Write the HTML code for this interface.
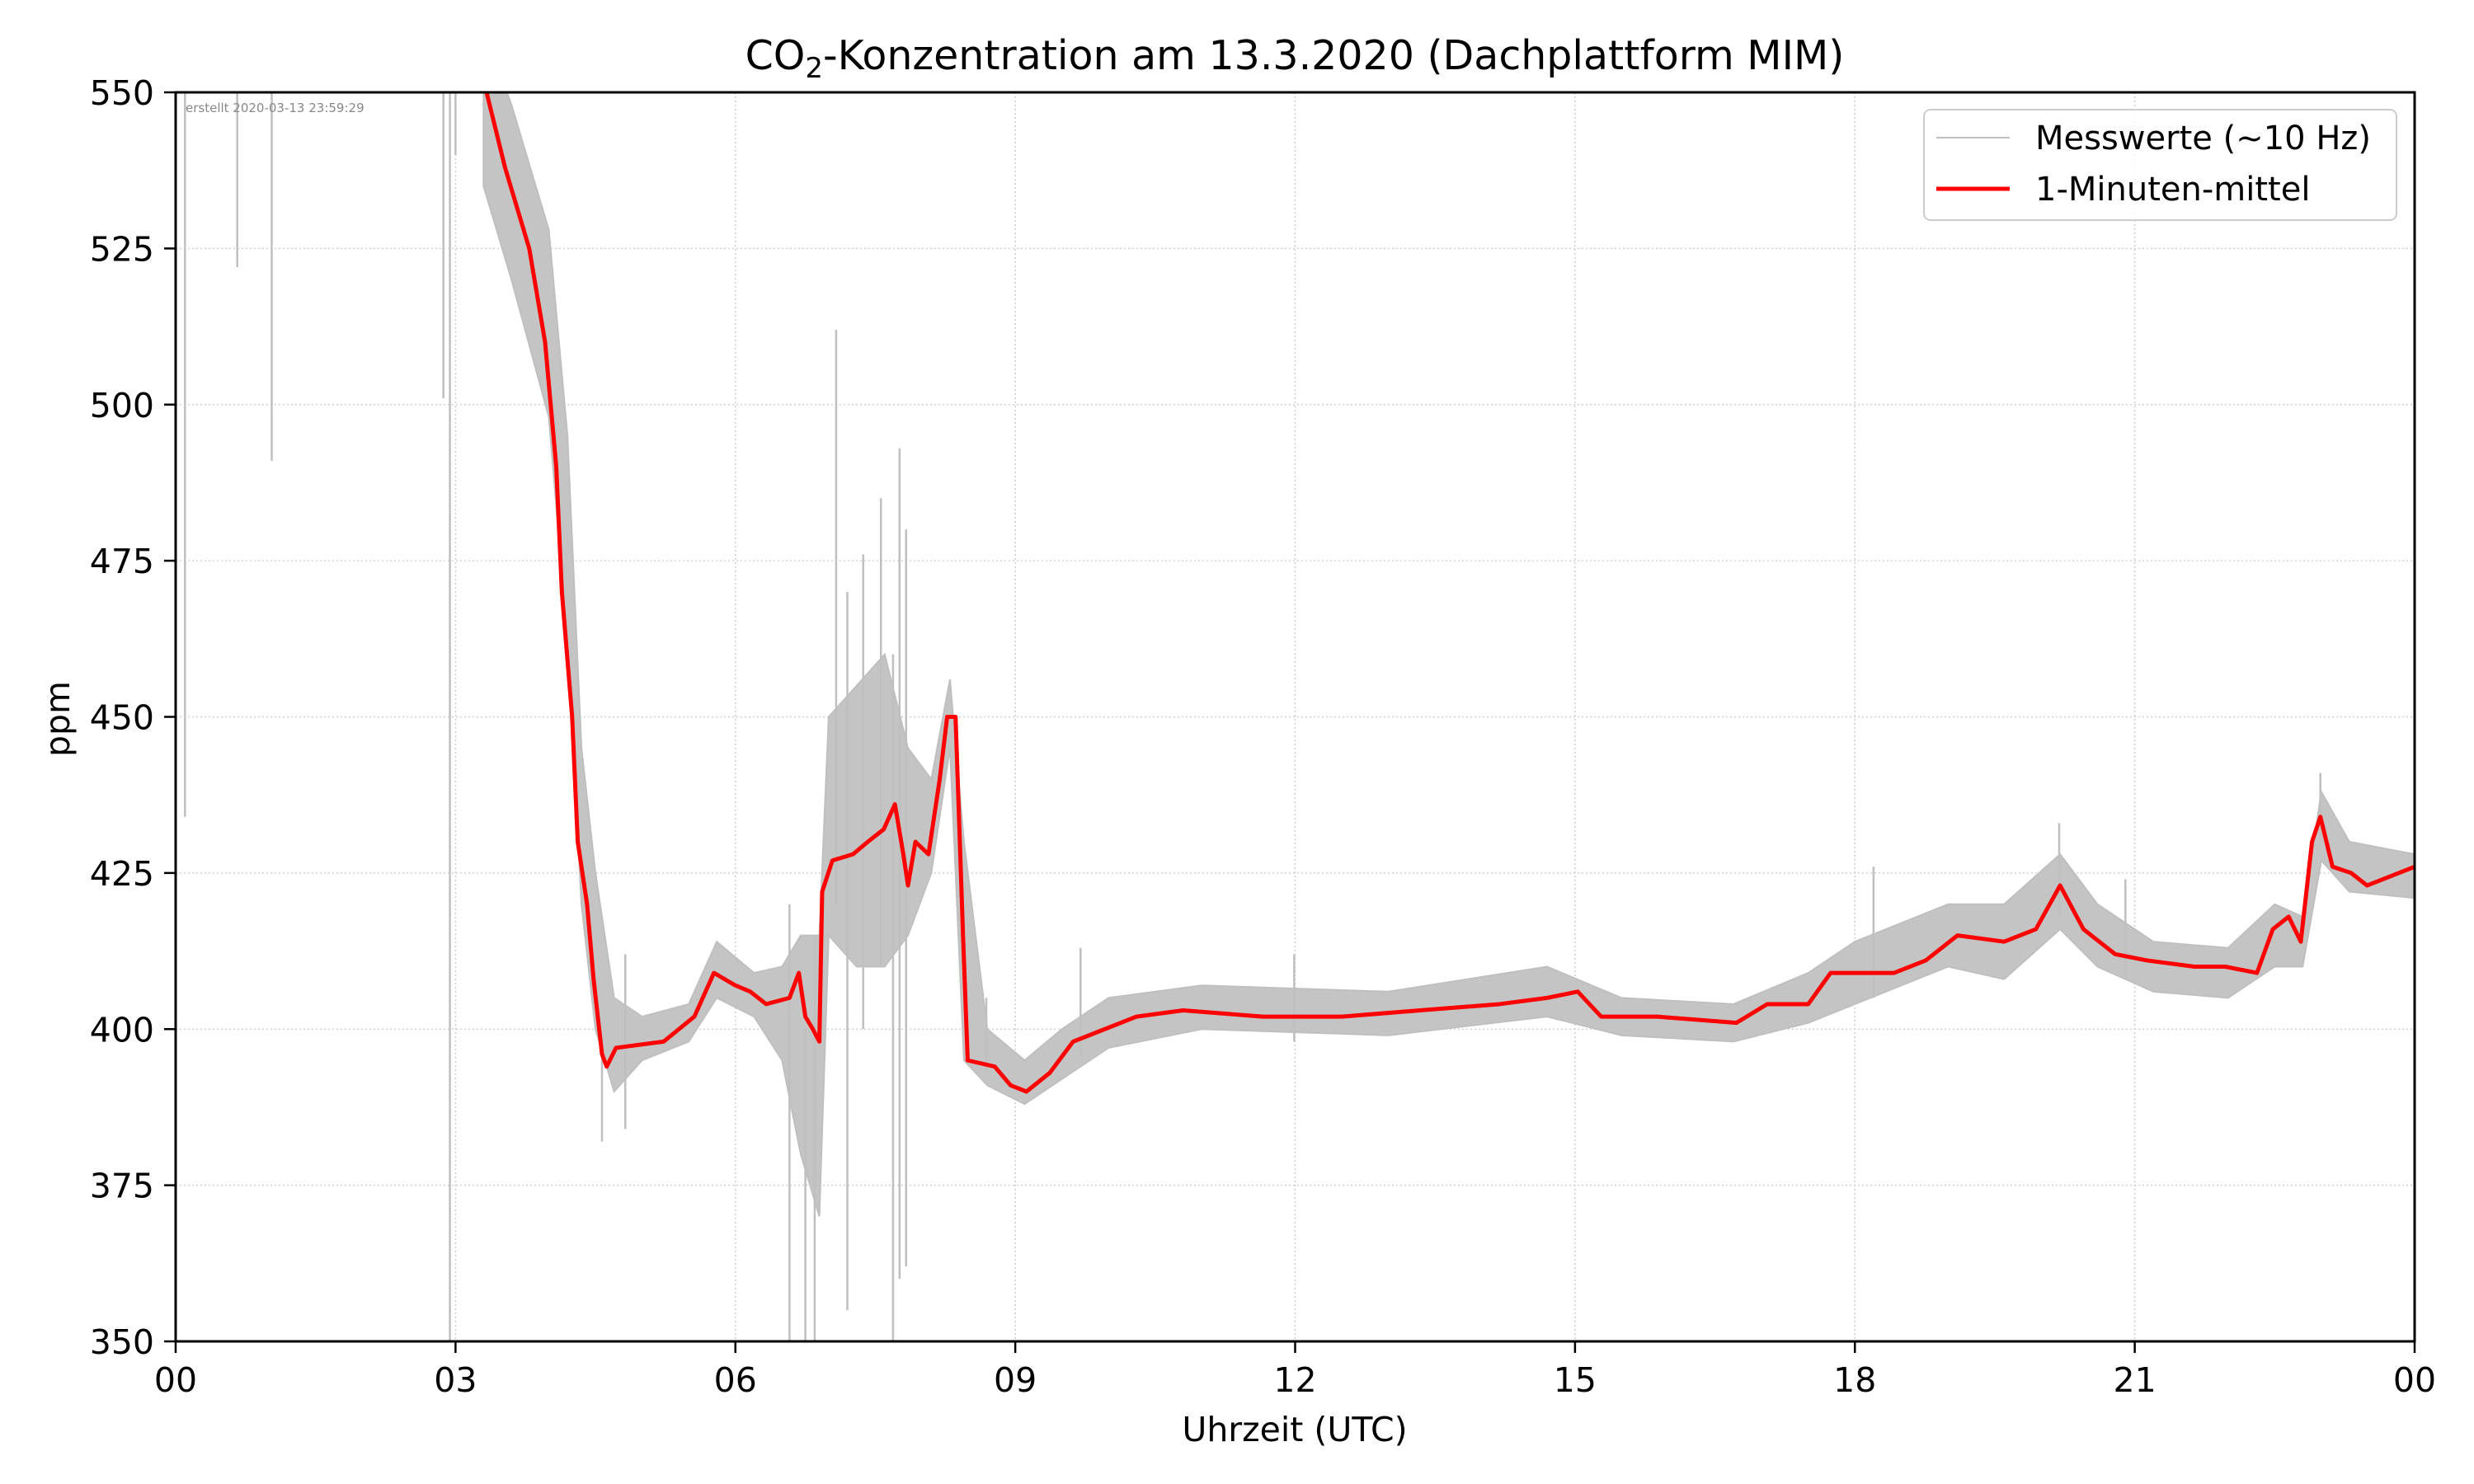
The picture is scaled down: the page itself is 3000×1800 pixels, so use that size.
<!DOCTYPE html>
<html><head><meta charset="utf-8"><style>
html,body{margin:0;padding:0;background:#fff;}
svg{display:block;font-family:"DejaVu Sans","Liberation Sans",sans-serif;}
</style></head><body>
<svg id="chart" width="3000" height="1800" viewBox="0 0 3000 1800" xmlns="http://www.w3.org/2000/svg">
<rect width="3000" height="1800" fill="#fff"/>
<g id="grid"></g>
<g id="gray"></g>
<g id="red"></g>
<g id="axes"></g>
<text x="1570" y="84" font-size="49" text-anchor="middle">CO<tspan font-size="34" dy="10">2</tspan><tspan dy="-10">-Konzentration am 13.3.2020 (Dachplattform MIM)</tspan></text>
<text x="1570" y="1748" font-size="41" text-anchor="middle">Uhrzeit (UTC)</text>
<text transform="translate(84,872) rotate(-90)" font-size="41" text-anchor="middle">ppm</text>
<text x="225" y="136" font-size="15" fill="#888">erstellt 2020-03-13 23:59:29</text>
<g>
<rect x="2333" y="133" width="573" height="134" rx="8" fill="#fff" fill-opacity="0.8" stroke="#ccc" stroke-width="2"/>
<line x1="2348" y1="167" x2="2437" y2="167" stroke="#bfbfbf" stroke-width="2"/>
<text x="2468" y="181" font-size="40">Messwerte (~10 Hz)</text>
<line x1="2348" y1="229" x2="2437" y2="229" stroke="#f00" stroke-width="5"/>
<text x="2468" y="243" font-size="40">1-Minuten-mittel</text>
</g>
</svg>
<script>
const meanHours=[3.3,3.53,3.79,3.96,4.08,4.14,4.25,4.31,4.41,4.48,4.57,4.62,4.72,5.23,5.56,5.77,6.0,6.16,6.33,6.58,6.68,6.75,6.83,6.9,6.93,7.04,7.26,7.42,7.59,7.71,7.8,7.85,7.93,8.07,8.19,8.27,8.36,8.44,8.49,8.78,8.95,9.12,9.37,9.62,9.96,10.3,10.8,11.65,12.5,13.34,14.19,14.7,15.03,15.28,15.88,16.73,17.06,17.5,17.74,18.42,18.76,19.1,19.6,19.94,20.2,20.45,20.79,21.13,21.64,21.97,22.31,22.48,22.65,22.78,22.9,22.99,23.12,23.32,23.49,24];
const meanValues=[552,538,525,510,490,470,450,430,420,408,396,394,397,398,402,409,407,406,404,405,409,402,400,398,422,427,428,430,432,436,428,423,430,428,440,450,450,415,395,394,391,390,393,398,400,402,403,402,402,403,404,405,406,402,402,401,404,404,409,409,411,415,414,416,423,416,412,411,410,410,409,416,418,414,430,434,426,425,423,426];
const envHours=[3.3,3.6,4.0,4.2,4.35,4.5,4.7,5.0,5.5,5.8,6.2,6.5,6.7,6.9,7.0,7.3,7.6,7.85,8.1,8.3,8.45,8.7,9.1,9.5,10,11,13,14.7,15.5,16.7,17.5,18,19,19.6,20.2,20.6,21.2,22,22.5,22.8,23.0,23.3,24];
const envLow=[535,520,498,462,420,400,390,395,398,405,402,395,380,370,415,410,410,415,425,445,395,391,388,392,397,400,399,402,399,398,401,404,410,408,416,410,406,405,410,410,427,422,421];
const envHigh=[560,548,528,495,445,425,405,402,404,414,409,410,415,415,450,455,460,445,440,456,430,400,395,400,405,407,406,410,405,404,409,414,420,420,428,420,414,413,420,418,438,430,428];
const spikeHours=[0.1,0.66,1.03,2.87,2.94,3.0,4.57,4.82,6.58,6.75,6.85,7.08,7.2,7.37,7.56,7.69,7.76,7.83,8.69,9.7,11.99,18.2,20.19,20.9,22.99];
const spikeLow=[434,522,491,501,350,540,382,384,350,350,350,420,355,400,410,350,360,362,393,396,398,405,418,408,430];
const spikeHigh=[550,550,550,550,550,550,398,412,420,400,415,512,470,476,485,460,493,480,405,413,412,426,433,424,441];
const xTicks=[0,3,6,9,12,15,18,21,24];
const xTickLabels=["00","03","06","09","12","15","18","21","00"];
const yTicks=[350,375,400,425,450,475,500,525,550];

const L=213,R=2928,T=112,B=1627;
const x=h=>L+h/24*(R-L);
const y=v=>B-(v-350)/200*(B-T);
const NS="http://www.w3.org/2000/svg";
function mk(tag,parent,attrs){const e=document.createElementNS(NS,tag);for(const k in attrs)e.setAttribute(k,attrs[k]);parent.appendChild(e);return e;}
const grid=document.getElementById('grid'),gray=document.getElementById('gray'),red=document.getElementById('red'),axes=document.getElementById('axes');
const defs=mk('clipPath',document.getElementById('chart'),{id:'clip'});
mk('rect',defs,{x:L,y:T,width:R-L,height:B-T});
gray.setAttribute('clip-path','url(#clip)');red.setAttribute('clip-path','url(#clip)');

xTicks.forEach((t,i)=>{
  const g=mk('line',grid,{x1:x(t),x2:x(t),y1:T,y2:B,stroke:'#d0d0d0','stroke-width':1.6,'stroke-dasharray':'2,3'});
  
  
  const tk=mk('line',axes,{x1:x(t),x2:x(t),y1:B,y2:B+14,stroke:'#000','stroke-width':2.5});
  
  
  const tl=mk('text',axes,{x:x(t),y:B+61,'font-size':41,'text-anchor':'middle'});
  tl.textContent=xTickLabels[i];
  
  
});
yTicks.forEach(t=>{
  const g=mk('line',grid,{x1:L,x2:R,y1:y(t),y2:y(t),stroke:'#d0d0d0','stroke-width':1.6,'stroke-dasharray':'2,3'});
  
  
  const tk=mk('line',axes,{x1:L-14,x2:L,y1:y(t),y2:y(t),stroke:'#000','stroke-width':2.5});
  
  
  const tl=mk('text',axes,{x:L-26,y:y(t)+15,'font-size':41,'text-anchor':'end'});
  tl.textContent=t;
  
  
});
const frame=mk('rect',axes,{x:L,y:T,width:R-L,height:B-T,fill:'none',stroke:'#000','stroke-width':3});



let pts=envHours.map((h,i)=>x(h)+','+y(envHigh[i]));
for(let i=envHours.length-1;i>=0;i--)pts.push(x(envHours[i])+','+y(envLow[i]));
const env=mk('polygon',gray,{points:pts.join(' '),fill:'#c4c4c4',stroke:'#bfbfbf','stroke-width':2});


spikeHours.forEach((h,i)=>{
  const s=mk('line',gray,{x1:x(h),x2:x(h),y1:y(spikeLow[i]),y2:y(spikeHigh[i]),stroke:'#bfbfbf','stroke-width':2.5});
  
  
});
const ml=mk('polyline',red,{points:meanHours.map((h,i)=>x(h)+','+y(meanValues[i])).join(' '),fill:'none',stroke:'#f00','stroke-width':5,'stroke-linejoin':'round'});


</script>
</body></html>
